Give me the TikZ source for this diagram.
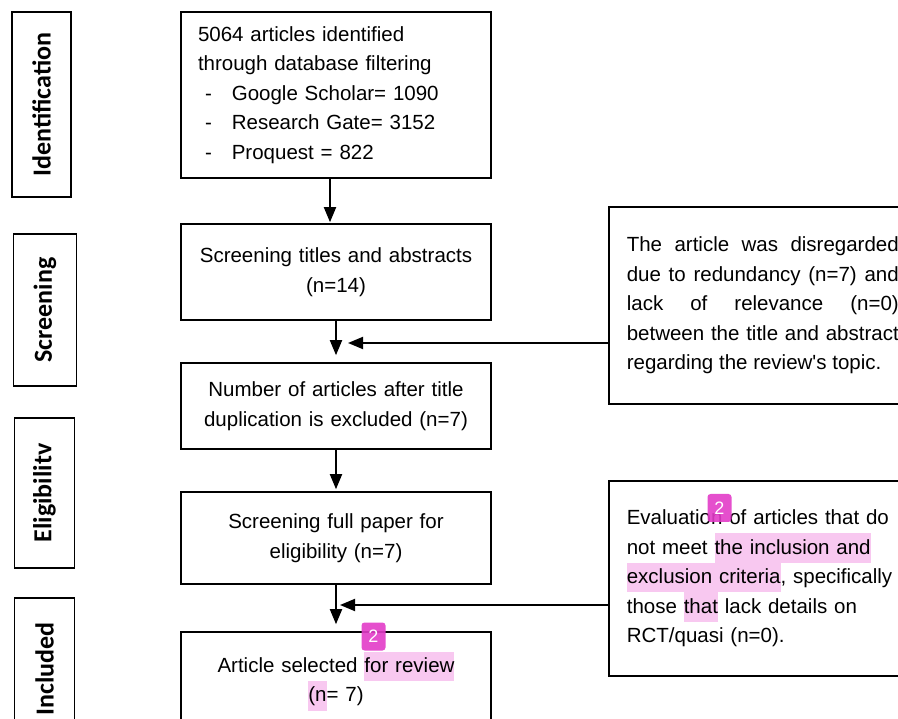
\documentclass[tikz,border=0pt]{standalone}
\usepackage{fontspec}
\setmainfont{Liberation Sans}
\newfontfamily\calfont{Carlito}
\usetikzlibrary{arrows.meta, positioning}

\definecolor{hlpink}{RGB}{248,200,240}
\definecolor{badgemag}{RGB}{226,60,200}
\newcommand{\hl}[1]{{\setlength{\fboxsep}{0pt}\colorbox{hlpink}{\strut #1}}}
\newcommand{\dashitem}{\hspace*{7pt}-\hspace*{20pt}}
\tolerance=9999
\hbadness=10000

\begin{document}
\begin{tikzpicture}[x=1pt, y=-1pt,
  stage/.style={draw, line width=1.6pt, rotate=90, inner sep=0pt, font=\calfont\bfseries\fontsize{26}{26}\selectfont},
  flowbox/.style={draw, line width=1.6pt, text width=276pt, inner xsep=17pt, align=center, font=\fontsize{20.5}{29.5}\selectfont},
  sidebox/.style={draw, line width=1.6pt, text width=272pt, inner xsep=18pt, anchor=north west, font=\fontsize{20.5}{29.5}\selectfont},
  arr/.style={-{Triangle[width=12pt,length=15pt]}, line width=1.8pt},
  badge/.style={fill=badgemag, fill opacity=0.9, text opacity=1, rounded corners=3pt, text=white, inner sep=0pt, minimum width=24pt, minimum height=28pt, font=\fontsize{18}{18}\selectfont}]

\useasboundingbox (0,0) rectangle (898,719);

% Stages
      \node[stage, minimum width=185pt, minimum height=59pt] (idlbl) at (41.5,104.5) {Identification};
      \node[stage, minimum width=152pt, minimum height=63pt] (scrlbl) at (45,310) {Screening};
      \node[stage, minimum width=150pt, minimum height=60pt] (elilbl) at (44.5,493) {Eligibilitv};
      \node[stage, minimum width=142pt, minimum height=60pt] (inclbl) at (44.5,669) {Included};

% Flow
      \node[flowbox, align=left, minimum height=166pt] (ident) at (336,95) {5064 articles identified\\ through database filtering\\ \dashitem Google Scholar= 1090\\ \dashitem Research Gate= 3152\\ \dashitem Proquest = 822};
      \node[flowbox, minimum height=96pt] (screen) at (336,272) {Screening titles and abstracts\\ (n=14)};
      \node[flowbox, minimum height=86pt] (dedup) at (336,406) {Number of articles after title\\ duplication is excluded (n=7)};
      \node[flowbox, minimum height=92pt] (fullpap) at (336,538) {Screening full paper for\\ eligibility (n=7)};
      \node[flowbox, minimum height=98pt] (select) at (336,681) {Article selected \hl{for review}\\ \hl{(n}= 7)};

% Excluded
      \node[sidebox, align=justify, minimum height=197pt] (excl1) at (608,206) {The article was disregarded\linebreak due to redundancy (n=7) and\linebreak lack of relevance (n=0)\linebreak between the title and abstract\linebreak regarding the review\textquotesingle s topic.};
      \node[sidebox, align=left, minimum height=195pt] (excl2) at (608,480) {Evaluation of articles that do\\ not meet \hl{the inclusion and}\\ \hl{exclusion criteria}, specifically\\ those \hl{that} lack details on\\ RCT/quasi (n=0).};

% Arrows
      \coordinate (m1) at (348,343);
      \coordinate (m2) at (340,605);
      \draw[arr, shorten >=1pt] ([xshift=-6pt]ident.south) -- ([xshift=-6pt]screen.north);
      \draw[arr, shorten >=7pt] (screen) -- (dedup);
      \draw[arr, shorten >=2pt] (dedup) -- (fullpap);
      \draw[arr, shorten >=7pt] (fullpap) -- (select);
      \draw[arr] (excl1.west |- m1) -- (m1);
      \draw[arr] (excl2.west |- m2) -- (m2);

% Notes
      \node[badge] (note1) at (719.5,508) {2};
      \node[badge] (note2) at (373.5,636.5) {2};

    \end{tikzpicture}
\end{document}
